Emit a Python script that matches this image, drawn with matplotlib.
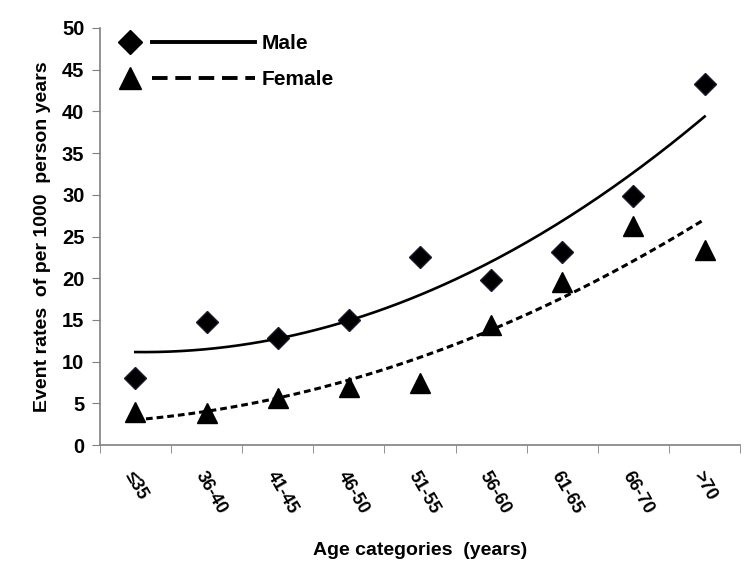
import numpy as np
import matplotlib
matplotlib.use("Agg")
import matplotlib.pyplot as plt
from matplotlib.lines import Line2D
from matplotlib.legend_handler import HandlerBase

plt.rcParams['font.family'] = ['Liberation Sans', 'DejaVu Sans']

# Datos
categorias = ["≤35", "36-40", "41-45", "46-50", "51-55", "56-60", "61-65", "66-70", ">70"]
hombres = [8.0, 14.8, 12.9, 15.0, 22.5, 19.8, 23.1, 29.9, 43.3]
mujeres = [4.0, 3.8, 5.7, 7.0, 7.5, 14.4, 19.6, 26.3, 23.4]

x = np.arange(1, len(categorias) + 1)


class HandlerMarcaLinea(HandlerBase):
    """Marcador a la izquierda y la línea a la derecha, como en Excel."""

    def __init__(self, marker, ms, dashes=None):
        super().__init__()
        self.marker, self.ms, self.dashes = marker, ms, dashes

    def create_artists(self, legend, orig_handle, xdescent, ydescent,
                       width, height, fontsize, trans):
        y = height / 2 - ydescent
        m = Line2D([0.09 * width - xdescent], [y], marker=self.marker,
                   markersize=self.ms, color="black", linestyle="none")
        l = Line2D([0.25 * width - xdescent, width - xdescent], [y, y],
                   color="black", lw=2.8)
        if self.dashes:
            l.set_dashes(self.dashes)
        m.set_transform(trans)
        l.set_transform(trans)
        return [m, l]


fig = plt.figure(figsize=(7.5, 5.7), dpi=100)
ax = fig.add_axes([0.133, 0.219, 0.854, 0.732])

# Puntos
ax.plot(x, hombres, linestyle="none", marker="D", markersize=11,
        color="black", markeredgecolor="#1a1a2e")
ax.plot(x, mujeres, linestyle="none", marker="^", markersize=15,
        color="black")

# Líneas de tendencia polinómicas (orden 2)
xs = np.linspace(1, len(categorias), 200)
ph = np.polyfit(x, hombres, 2)
pm = np.polyfit(x, mujeres, 2)
ax.plot(xs, np.polyval(ph, xs), color="black", lw=1.9)
ax.plot(xs, np.polyval(pm, xs), color="black", lw=2.2, dashes=(2.2, 1.3))

# Ejes
ax.set_xlim(0.5, len(categorias) + 0.5)
ax.set_ylim(0, 50)
ax.set_yticks(np.arange(0, 51, 5))
ax.set_xticks(x)
ax.set_xticklabels(categorias, rotation=-60, ha="left", va="top",
                   rotation_mode="anchor", fontsize=13, fontweight="bold")
ax.set_xticks(np.arange(0.5, len(categorias) + 1, 1), minor=True)
ax.tick_params(axis="x", which="major", length=0, pad=17)
ax.tick_params(axis="x", which="minor", length=6, color="#808080", direction="out")
ax.tick_params(axis="y", length=6, color="#808080", labelsize=14.5, pad=5)
for lab in ax.get_yticklabels():
    lab.set_fontweight("bold")

for s in ["top", "right"]:
    ax.spines[s].set_visible(False)
for s in ["left", "bottom"]:
    ax.spines[s].set_color("#808080")
    ax.spines[s].set_linewidth(1.2)

ax.set_ylabel("Event rates  of per 1000  person years", fontsize=14,
              fontweight="bold", labelpad=8)
ax.set_xlabel("Age categories  (years)", fontsize=14, fontweight="bold",
              labelpad=18)

# Leyenda
h_m = Line2D([], [], color="black")
h_f = Line2D([], [], color="black")
ax.legend([h_m, h_f], ["Male", "Female"],
          handler_map={h_m: HandlerMarcaLinea("D", 12),
                       h_f: HandlerMarcaLinea("^", 16, dashes=(4, 2))},
          handlelength=6.6, loc="upper left", bbox_to_anchor=(0.025, 0.99),
          borderaxespad=0, borderpad=0.1, frameon=False,
          prop={"size": 15, "weight": "bold"},
          handletextpad=0.3, labelspacing=0.8)

fig.savefig("out.png", dpi=100)
